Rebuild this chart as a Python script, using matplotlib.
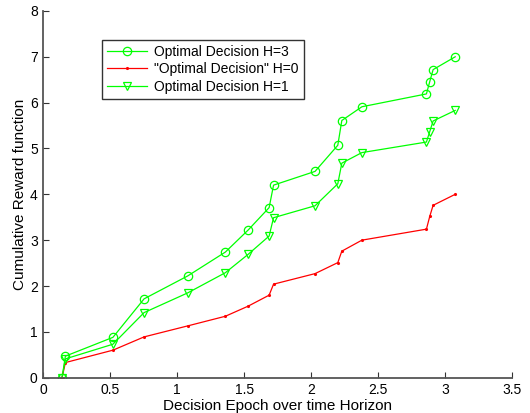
import matplotlib
matplotlib.use('Agg')
import matplotlib.pyplot as plt

# decision epochs (shared by the three runs)
epoch = [0.14, 0.165, 0.52, 0.753, 1.079, 1.36, 1.53, 1.687, 1.72,
         2.03, 2.2, 2.23, 2.38, 2.862, 2.887, 2.912, 3.077]
reward_h3 = [0.0, 0.47, 0.88, 1.72, 2.22, 2.74, 3.22, 3.71, 4.2,
             4.5, 5.07, 5.61, 5.91, 6.19, 6.46, 6.72, 7.0]
reward_h0 = [0.0, 0.33, 0.60, 0.89, 1.13, 1.34, 1.56, 1.80, 2.04,
             2.27, 2.51, 2.76, 3.0, 3.24, 3.52, 3.76, 4.0]
reward_h1 = [0.0, 0.41, 0.73, 1.42, 1.85, 2.29, 2.69, 3.09, 3.49,
             3.75, 4.23, 4.68, 4.91, 5.14, 5.37, 5.6, 5.83]

plt.rcParams['font.family'] = ['Liberation Sans', 'DejaVu Sans']

fig = plt.figure(figsize=(5.3, 4.13), dpi=100)
ax = fig.add_axes([0.0817, 0.0855, 0.884, 0.888])

ax.plot(epoch, reward_h3, linestyle='-', marker='o', color='#00ff00', lw=0.9,
        ms=6, mfc='none', mew=0.9, label='Optimal Decision H=3')
ax.plot(epoch, reward_h0, linestyle='-', marker='.', color='#ff0000', lw=0.9,
        ms=2.5, label='"Optimal Decision" H=0')
ax.plot(epoch, reward_h1, linestyle='-', marker='v', color='#00ff00', lw=0.9,
        ms=6, mfc='none', mew=0.9, label='Optimal Decision H=1')

ax.set_xlim(0, 3.5)
ax.set_ylim(0, 8)
ax.set_xticks([0, 0.5, 1, 1.5, 2, 2.5, 3, 3.5])
ax.set_xticklabels(['0', '0.5', '1', '1.5', '2', '2.5', '3', '3.5'])
ax.set_yticks(range(9))

for s in ['top', 'right']:
    ax.spines[s].set_visible(False)
for s in ['left', 'bottom']:
    ax.spines[s].set_color('#555555')
    ax.spines[s].set_linewidth(1.3)
ax.tick_params(direction='in', length=4, width=0.8, color='#333333',
               labelsize=10, pad=4)

ax.set_xlabel('Decision Epoch over time Horizon', fontsize=11, labelpad=1)
ax.set_ylabel('Cumulative Reward function', fontsize=11, labelpad=2)

leg = ax.legend(loc='upper left', bbox_to_anchor=(0.126, 0.921),
                fontsize=10, frameon=True, fancybox=False,
                handlelength=2.9, borderpad=0.35, labelspacing=0.25,
                handletextpad=0.5, borderaxespad=0)
leg.get_frame().set_edgecolor('black')
leg.get_frame().set_linewidth(1.0)

fig.savefig('out.png', dpi=100)
